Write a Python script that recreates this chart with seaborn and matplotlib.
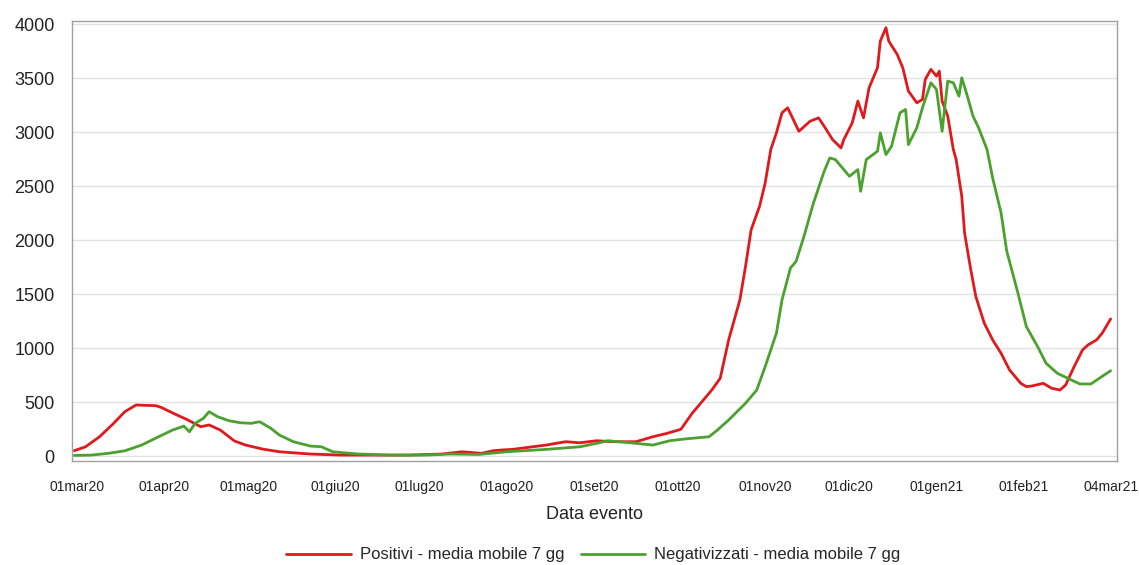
# Positivi / Negativizzati - media mobile 7 gg
import matplotlib
matplotlib.use('Agg')
import pandas as pd
from matplotlib import pyplot as plt
import seaborn as sns

# dati (media mobile 7 giorni)
pos_date = ['2020-02-29', '2020-03-04', '2020-03-09', '2020-03-14', '2020-03-18', '2020-03-22',
            '2020-03-25', '2020-03-29', '2020-03-31', '2020-04-05', '2020-04-09', '2020-04-14',
            '2020-04-17', '2020-04-21', '2020-04-26', '2020-04-30', '2020-05-06', '2020-05-12',
            '2020-05-23', '2020-06-03', '2020-06-27', '2020-07-09', '2020-07-16', '2020-07-23',
            '2020-07-27', '2020-07-30', '2020-08-03', '2020-08-15', '2020-08-22', '2020-08-27',
            '2020-09-02', '2020-09-08', '2020-09-16', '2020-09-22', '2020-09-27', '2020-10-02',
            '2020-10-06', '2020-10-10', '2020-10-13', '2020-10-16', '2020-10-19', '2020-10-23',
            '2020-10-25', '2020-10-27', '2020-10-30', '2020-11-01', '2020-11-03', '2020-11-05',
            '2020-11-07', '2020-11-09', '2020-11-11', '2020-11-13', '2020-11-17', '2020-11-20',
            '2020-11-22', '2020-11-25', '2020-11-28', '2020-11-29', '2020-12-02', '2020-12-04',
            '2020-12-06', '2020-12-08', '2020-12-11', '2020-12-12', '2020-12-14', '2020-12-15',
            '2020-12-18', '2020-12-20', '2020-12-22', '2020-12-25', '2020-12-27', '2020-12-28',
            '2020-12-30', '2021-01-01', '2021-01-02', '2021-01-03', '2021-01-05', '2021-01-07',
            '2021-01-08', '2021-01-10', '2021-01-11', '2021-01-13', '2021-01-15', '2021-01-18',
            '2021-01-21', '2021-01-24', '2021-01-27', '2021-01-31', '2021-02-02', '2021-02-04',
            '2021-02-08', '2021-02-11', '2021-02-14', '2021-02-16', '2021-02-19', '2021-02-22',
            '2021-02-24', '2021-02-27', '2021-03-01', '2021-03-04']
pos_val = [50, 86, 179, 303, 411, 473,
           470, 467, 450, 387, 340, 272,
           288, 241, 140, 102, 65, 40,
           19, 9, 9, 19, 40, 25,
           49, 56, 62, 102, 133, 123,
           142, 133, 133, 179, 210, 248,
           396, 519, 612, 721, 1076, 1447,
           1756, 2096, 2313, 2529, 2839, 2993,
           3179, 3225, 3117, 3008, 3101, 3132,
           3055, 2931, 2854, 2931, 3086, 3287,
           3132, 3411, 3596, 3843, 3967, 3843,
           3720, 3596, 3380, 3272, 3302, 3488,
           3581, 3519, 3565, 3287, 3148, 2839,
           2746, 2405, 2066, 1756, 1478, 1231,
           1076, 952, 798, 674, 643, 649,
           674, 628, 612, 659, 828, 983,
           1030, 1076, 1138, 1270]

neg_date = ['2020-02-29', '2020-03-06', '2020-03-12', '2020-03-18', '2020-03-24', '2020-03-30',
            '2020-04-04', '2020-04-08', '2020-04-10', '2020-04-12', '2020-04-15', '2020-04-17',
            '2020-04-20', '2020-04-24', '2020-04-28', '2020-05-02', '2020-05-05', '2020-05-09',
            '2020-05-12', '2020-05-17', '2020-05-23', '2020-05-27', '2020-05-31', '2020-06-09',
            '2020-06-21', '2020-07-03', '2020-07-12', '2020-07-22', '2020-08-01', '2020-08-15',
            '2020-08-27', '2020-09-02', '2020-09-06', '2020-09-14', '2020-09-22', '2020-09-28',
            '2020-10-04', '2020-10-12', '2020-10-15', '2020-10-19', '2020-10-25', '2020-10-29',
            '2020-11-01', '2020-11-05', '2020-11-07', '2020-11-10', '2020-11-12', '2020-11-15',
            '2020-11-18', '2020-11-22', '2020-11-24', '2020-11-26', '2020-11-29', '2020-12-01',
            '2020-12-04', '2020-12-05', '2020-12-07', '2020-12-11', '2020-12-12', '2020-12-14',
            '2020-12-16', '2020-12-19', '2020-12-21', '2020-12-22', '2020-12-25', '2020-12-27',
            '2020-12-30', '2021-01-01', '2021-01-03', '2021-01-05', '2021-01-07', '2021-01-09',
            '2021-01-10', '2021-01-12', '2021-01-14', '2021-01-16', '2021-01-19', '2021-01-21',
            '2021-01-24', '2021-01-26', '2021-01-30', '2021-02-02', '2021-02-06', '2021-02-09',
            '2021-02-13', '2021-02-18', '2021-02-21', '2021-02-25', '2021-02-28', '2021-03-04']
neg_val = [6, 9, 25, 49, 102, 179,
           241, 278, 225, 303, 350, 411,
           365, 328, 309, 303, 318, 257,
           195, 133, 93, 86, 40, 19,
           9, 9, 19, 15, 40, 62,
           86, 118, 142, 123, 102, 142,
           160, 179, 241, 334, 489, 612,
           828, 1138, 1447, 1741, 1803, 2050,
           2328, 2637, 2761, 2746, 2653, 2591,
           2653, 2452, 2746, 2823, 2993, 2792,
           2869, 3179, 3210, 2885, 3040, 3225,
           3457, 3395, 3008, 3472, 3457, 3333,
           3503, 3333, 3148, 3040, 2839, 2575,
           2251, 1900, 1509, 1199, 1014, 860,
           767, 705, 668, 668, 721, 790]

serie_pos = 'Positivi - media mobile 7 gg'
serie_neg = 'Negativizzati - media mobile 7 gg'

tick_date = ['2020-03-01', '2020-04-01', '2020-05-01', '2020-06-01', '2020-07-01', '2020-08-01',
             '2020-09-01', '2020-10-01', '2020-11-01', '2020-12-01', '2021-01-01', '2021-02-01',
             '2021-03-04']
tick_label = ['01mar20', '01apr20', '01mag20', '01giu20', '01lug20', '01ago20', '01set20',
              '01ott20', '01nov20', '01dic20', '01gen21', '01feb21', '04mar21']
y_ticks = [0, 500, 1000, 1500, 2000, 2500, 3000, 3500, 4000]

df = pd.concat([
    pd.DataFrame({'data': pd.to_datetime(pos_date), 'valore': pos_val, 'serie': serie_pos}),
    pd.DataFrame({'data': pd.to_datetime(neg_date), 'valore': neg_val, 'serie': serie_neg}),
], ignore_index=True)

sns.set_style('white')
plt.rcParams['font.family'] = ['Liberation Sans', 'DejaVu Sans']

fig = plt.figure(figsize=(11.39, 5.65), dpi=100)
ax = fig.add_axes([0.063, 0.184, 0.918, 0.779])

colori = {serie_pos: '#e0191c', serie_neg: '#4aa22e'}
sns.lineplot(data=df, x='data', y='valore', hue='serie', palette=colori, estimator=None,
             linewidth=2.0, ax=ax, legend=False)

# assi
start = pd.Timestamp('2020-03-01')
ax.set_xlim(start - pd.Timedelta(days=1.9), start + pd.Timedelta(days=370.4))
ax.set_ylim(-46, 4030)
ax.set_yticks(y_ticks)
ax.set_yticklabels([str(v) for v in y_ticks], fontsize=13, color='#222222')
ax.set_xticks(pd.to_datetime(tick_date))
ax.set_xticklabels(tick_label, fontsize=10, color='#222222')
ax.tick_params(axis='x', direction='out', length=7.2, width=1, color='#9a9a9a', pad=6.8)
ax.tick_params(axis='y', direction='out', length=5.8, width=1, color='#9a9a9a', pad=6.5)
ax.grid(axis='y', color='#e2e2e2', linewidth=1)
ax.set_axisbelow(True)
for s in ax.spines.values():
    s.set_color('#a0a0a0')
    s.set_linewidth(1)
ax.set_xlabel('Data evento', fontsize=13, color='#222222', labelpad=8)
ax.set_ylabel('')

# legenda sotto
fig.legend(ax.get_lines()[:2], [serie_pos, serie_neg], loc='lower center',
           bbox_to_anchor=(0.521, -0.022), ncol=2, frameon=False, fontsize=12,
           handlelength=3.85, columnspacing=1.0, handletextpad=0.55)

fig.savefig('out.png', dpi=100)
